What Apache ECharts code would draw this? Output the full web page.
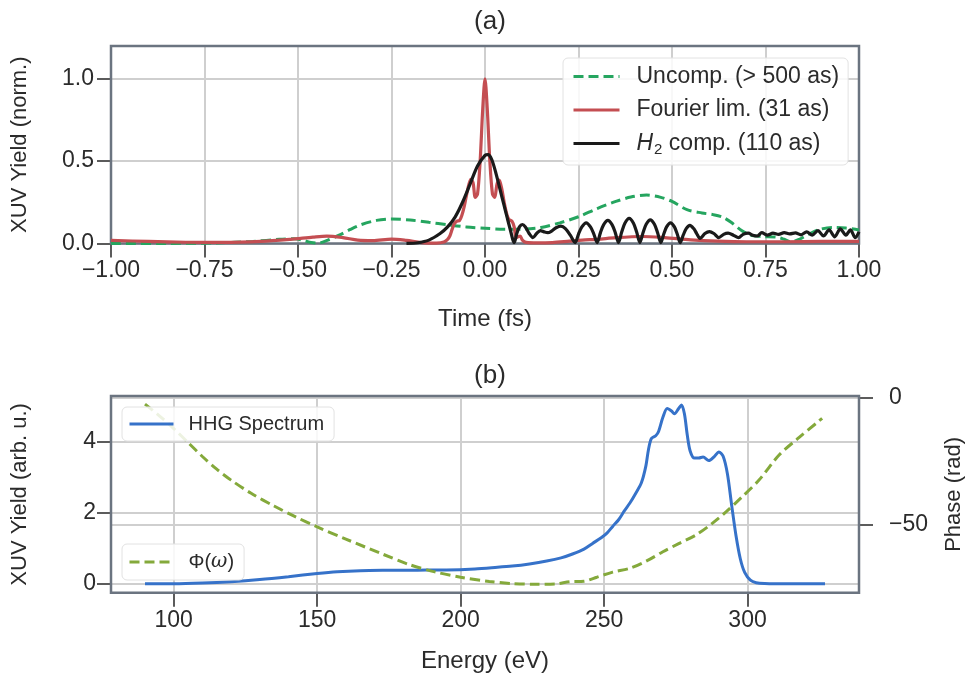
<!DOCTYPE html>
<html>
<head>
<meta charset="utf-8">
<script src="https://cdn.jsdelivr.net/npm/echarts@6/dist/echarts.min.js"></script>
<style>
html,body{margin:0;padding:0;background:#fff;}
#chart{width:966px;height:683px;}
</style>
</head>
<body>
<div id="chart"></div>
<script>
// ---------- Data ----------
const seriesNamesA = ['Uncomp. (> 500 as)', 'Fourier lim. (31 as)', 'H2 comp. (110 as)'];
const timeTicks = [-1, -0.75, -0.5, -0.25, 0, 0.25, 0.5, 0.75, 1];
const yieldTicksA = [0, 0.5, 1.0];

// Uncompressed pulse [time fs, yield]
const uncomp = [
  [-1.0, 0.0], [-0.85, 0.0], [-0.72, 0.003], [-0.62, 0.012], [-0.55, 0.025], [-0.51, 0.028],
  [-0.485, 0.018], [-0.465, 0.006], [-0.445, 0.002], [-0.42, 0.02], [-0.39, 0.05], [-0.36, 0.085],
  [-0.33, 0.115], [-0.29, 0.14], [-0.25, 0.148], [-0.2, 0.142], [-0.15, 0.128], [-0.1, 0.113],
  [-0.05, 0.1], [0.0, 0.092], [0.05, 0.086], [0.1, 0.087], [0.15, 0.097], [0.2, 0.125],
  [0.25, 0.162], [0.3, 0.212], [0.35, 0.255], [0.39, 0.282], [0.432, 0.294], [0.47, 0.28],
  [0.5, 0.255], [0.54, 0.205], [0.58, 0.185], [0.61, 0.175], [0.635, 0.16], [0.66, 0.125],
  [0.685, 0.08], [0.71, 0.05], [0.74, 0.042], [0.78, 0.038], [0.8, 0.025], [0.818, 0.01],
  [0.84, 0.025], [0.865, 0.055], [0.895, 0.085], [0.93, 0.097], [0.965, 0.093], [1.0, 0.082]
];

// Fourier-limited pulse [time fs, yield]
const fourier = [
  [-1.0, 0.018], [-0.9, 0.012], [-0.8, 0.007], [-0.7, 0.006], [-0.6, 0.012], [-0.52, 0.025],
  [-0.46, 0.038], [-0.423, 0.044], [-0.38, 0.035], [-0.34, 0.02], [-0.3, 0.017], [-0.25, 0.026],
  [-0.21, 0.018], [-0.17, 0.005], [-0.13, 0.002], [-0.11, 0.008], [-0.1, 0.025], [-0.094, 0.045],
  [-0.088, 0.085], [-0.082, 0.12], [-0.075, 0.135], [-0.068, 0.14], [-0.062, 0.17], [-0.055, 0.23],
  [-0.047, 0.32], [-0.038, 0.39], [-0.032, 0.37], [-0.026, 0.28], [-0.02, 0.3], [-0.013, 0.5],
  [-0.006, 0.82], [0.0, 1.0], [0.006, 0.82], [0.013, 0.5], [0.02, 0.3], [0.026, 0.28],
  [0.032, 0.36], [0.038, 0.385], [0.045, 0.33], [0.052, 0.24], [0.058, 0.18], [0.064, 0.145],
  [0.072, 0.135], [0.078, 0.1], [0.083, 0.035], [0.088, 0.04], [0.094, 0.045], [0.1, 0.02],
  [0.11, 0.006], [0.14, 0.003], [0.18, 0.005], [0.22, 0.012], [0.26, 0.02], [0.3, 0.025],
  [0.35, 0.035], [0.42, 0.042], [0.48, 0.035], [0.55, 0.022], [0.62, 0.014], [0.7, 0.01],
  [0.8, 0.01], [0.9, 0.012], [1.0, 0.012]
];

// H2 compressed pulse [time fs, yield]
const h2comp = [
  [-0.21, 0.0], [-0.18, 0.004], [-0.15, 0.02], [-0.12, 0.06], [-0.1, 0.1], [-0.08, 0.16],
  [-0.06, 0.25], [-0.04, 0.36], [-0.02, 0.47], [0.0, 0.535], [0.008, 0.54], [0.018, 0.51],
  [0.03, 0.42], [0.04, 0.33], [0.05, 0.24], [0.06, 0.15], [0.068, 0.08], [0.074, 0.025],
  [0.078, 0.005], [0.085, 0.06], [0.092, 0.1], [0.1, 0.115], [0.108, 0.1], [0.118, 0.06],
  [0.128, 0.035], [0.138, 0.06], [0.148, 0.078], [0.158, 0.07], [0.168, 0.065], [0.178, 0.075],
  [0.19, 0.095], [0.203, 0.105], [0.215, 0.09], [0.228, 0.05], [0.241, 0.005],
  [0.25, 0.057], [0.259, 0.1], [0.2705, 0.125], [0.282, 0.1], [0.291, 0.057], [0.3, 0.005],
  [0.3085, 0.064], [0.317, 0.113], [0.3285, 0.14], [0.34, 0.113], [0.3485, 0.064], [0.357, 0.005],
  [0.3655, 0.069], [0.374, 0.123], [0.3855, 0.152], [0.397, 0.123], [0.4055, 0.069], [0.414, 0.005],
  [0.4225, 0.065], [0.431, 0.116], [0.442, 0.143], [0.453, 0.116], [0.4615, 0.065], [0.47, 0.005],
  [0.478, 0.057], [0.4855, 0.1], [0.496, 0.125], [0.5065, 0.1], [0.514, 0.057], [0.522, 0.005],
  [0.53, 0.05], [0.538, 0.09], [0.548, 0.11], [0.558, 0.09], [0.566, 0.06], [0.575, 0.03],
  [0.588, 0.06], [0.6, 0.072], [0.612, 0.06], [0.625, 0.035], [0.638, 0.055], [0.65, 0.062],
  [0.664, 0.05], [0.678, 0.035], [0.69, 0.055], [0.704, 0.062], [0.716, 0.05], [0.728, 0.045],
  [0.74, 0.065], [0.755, 0.05], [0.77, 0.062], [0.785, 0.055], [0.8, 0.066], [0.815, 0.058],
  [0.83, 0.064], [0.845, 0.052], [0.86, 0.07], [0.875, 0.05], [0.89, 0.078], [0.905, 0.045],
  [0.92, 0.082], [0.935, 0.04], [0.95, 0.088], [0.965, 0.05], [0.977, 0.082], [0.99, 0.035],
  [1.0, 0.07]
];

const seriesNamesB = ['HHG Spectrum', 'Φ(ω)'];
const energyTicks = [100, 150, 200, 250, 300];
const yieldTicksB = [0, 2, 4];
const phaseTicks = [-50, 0];

// HHG spectrum [energy eV, yield arb. u.]
const hhg = [
  [90, 0.0], [100, 0.0], [110, 0.02], [120, 0.06], [130, 0.12], [140, 0.2], [150, 0.29],
  [157, 0.34], [165, 0.37], [175, 0.38], [185, 0.385], [195, 0.39], [205, 0.42], [212, 0.46],
  [218, 0.5], [224, 0.56], [230, 0.64], [235, 0.73], [239, 0.84], [243, 0.98], [246, 1.14],
  [249, 1.3], [251, 1.43], [253, 1.62], [255, 1.8], [257, 2.05], [259, 2.28], [261, 2.55],
  [263, 2.85], [264.5, 3.3], [265.5, 3.8], [266.5, 4.1], [268, 4.18], [269, 4.3], [270.5, 4.7],
  [272, 4.95], [273.5, 4.88], [274.5, 4.8], [276, 4.95], [277, 5.05], [278, 4.8], [279, 4.2],
  [280, 3.75], [281.5, 3.55], [283, 3.55], [284.5, 3.58], [286.5, 3.48], [288.5, 3.6],
  [290, 3.72], [291.5, 3.6], [293, 3.1], [294.5, 2.2], [296, 1.35], [297.5, 0.7], [299, 0.32],
  [301, 0.1], [303, 0.03], [306, 0.005], [310, 0.0], [327, 0.0]
];

// Spectral phase [energy eV, phase rad]
const phase = [
  [90, -2.4], [95, -7], [100, -12], [105, -17.5], [110, -23], [115, -28], [120, -32.3],
  [127, -37.5], [135, -42.5], [142, -46.5], [150, -50.7], [160, -55.5], [173, -61.5],
  [182, -65.5], [191, -68.4], [200, -70.5], [210, -72.2], [218, -73], [226, -73.3],
  [233, -73.2], [238, -72.3], [243, -72.1], [247.5, -70.5], [253, -68.5], [259, -67],
  [265, -64], [270.5, -60.5], [276, -57.3], [282, -53.9], [287.5, -49.5], [292.5, -44.8],
  [298, -39], [304, -32.3], [311, -22.4], [318, -15.5], [326, -8]
];

// ---------- Styling ----------
const FONT = '"Liberation Sans", Arial, sans-serif';
const TXT = '#2b2b2b';
const SPINE = '#6b7480';
const GRID = '#cfcfcf';
const C_GREEN = '#25a55f', C_RED = '#c44e52', C_BLACK = '#1a1a1a', C_BLUE = '#3672c9', C_OLIVE = '#84a93b';

function minus(s) { return s.replace('-', '\u2212'); }

const chart = echarts.init(document.getElementById('chart'), null, {renderer: 'canvas'});

const tickStyle = {show: true, inside: false, length: 14, lineStyle: {color: '#333', width: 1.6}};
const labelBase = {color: TXT, fontSize: 23, fontFamily: FONT};
const nameH = {color: TXT, fontSize: 24, fontFamily: FONT};
const nameV = {color: TXT, fontSize: 22, fontFamily: FONT};
const noLine = {show: false, onZero: false};
const legendCommon = {
  backgroundColor: 'rgba(255,255,255,0.85)', borderColor: '#e2e2e2', borderWidth: 1, borderRadius: 5,
  itemStyle: {color: 'rgba(0,0,0,0)', borderWidth: 0, opacity: 0},
  lineStyle: {width: 3}
};
const gridCommon = {
  show: true, z: 3, backgroundColor: 'transparent', borderColor: SPINE, borderWidth: 2.5,
  containLabel: false, outerBoundsMode: 'none'
};

const option = {
  animation: false,
  backgroundColor: '#fff',
  textStyle: {fontFamily: FONT},
  title: [
    {text: '(a)', left: 485, top: 4, textAlign: 'center', textStyle: {fontSize: 26, fontWeight: 'normal', color: TXT, fontFamily: FONT}},
    {text: '(b)', left: 485, top: 358, textAlign: 'center', textStyle: {fontSize: 26, fontWeight: 'normal', color: TXT, fontFamily: FONT}}
  ],
  grid: [
    Object.assign({left: 111, top: 46, width: 748, height: 197.4}, gridCommon),
    Object.assign({left: 111, top: 396, width: 748, height: 196.7}, gridCommon)
  ],
  legend: [
    Object.assign({
      data: seriesNamesA, orient: 'vertical', left: 563, top: 58,
      itemWidth: 46, itemHeight: 14, itemGap: 10.5,
      padding: [7, 9, 8, 9],
      textStyle: {color: TXT, fontSize: 23, fontFamily: FONT, padding: [0, 0, 0, 12],
        rich: {
          it: {fontSize: 23, fontStyle: 'italic', fontFamily: FONT, color: TXT},
          sub: {fontSize: 15, fontFamily: FONT, color: TXT, padding: [12, 0, 0, 1]},
          n: {fontSize: 23, fontFamily: FONT, color: TXT}
        }},
      formatter: function (name) {
        if (name === seriesNamesA[2]) return '{it|H}{sub|2}{n| comp. (110 as)}';
        return name;
      }
    }, legendCommon),
    Object.assign({
      data: [seriesNamesB[0]], orient: 'vertical', left: 122, top: 407,
      itemWidth: 44, itemHeight: 14,
      padding: [7, 10, 7, 6],
      textStyle: {color: TXT, fontSize: 20, fontFamily: FONT, padding: [0, 0, 0, 10]}
    }, legendCommon),
    Object.assign({
      data: [seriesNamesB[1]], orient: 'vertical', left: 122, top: 544,
      itemWidth: 44, itemHeight: 14,
      padding: [8, 10, 8, 6],
      textStyle: {color: TXT, fontSize: 20, fontFamily: FONT, padding: [0, 0, 0, 10],
        rich: {
          n: {fontSize: 20, fontFamily: FONT, color: TXT},
          it: {fontSize: 20, fontStyle: 'italic', fontFamily: 'DejaVu Serif, serif', color: TXT}
        }},
      formatter: function () { return '{n|Φ(}{it|ω}{n|)}'; }
    }, legendCommon)
  ],
  xAxis: [
    {
      gridIndex: 0, type: 'value', min: -1, max: 1, interval: 0.25,
      name: 'Time (fs)', nameLocation: 'middle', nameGap: 64, nameTextStyle: nameH,
      axisLine: noLine,
      axisTick: tickStyle,
      axisLabel: Object.assign({margin: 16, formatter: v => minus(v.toFixed(2))}, labelBase),
      splitLine: {show: true, lineStyle: {color: GRID, width: 2}}
    },
    {
      gridIndex: 1, type: 'value', min: 78.15, max: 338.85, splitNumber: 5,
      name: 'Energy (eV)', nameLocation: 'middle', nameGap: 57, nameTextStyle: nameH,
      axisLine: noLine,
      axisTick: Object.assign({customValues: energyTicks}, tickStyle),
      axisLabel: Object.assign({margin: 16, customValues: energyTicks, formatter: v => String(v)}, labelBase),
      splitLine: {show: true, lineStyle: {color: GRID, width: 2}}
    }
  ],
  yAxis: [
    {
      gridIndex: 0, type: 'value', min: 0, max: 1.2, interval: 0.5,
      name: 'XUV Yield (norm.)', nameLocation: 'middle', nameGap: 80, nameTextStyle: nameV,
      axisLine: noLine,
      axisTick: Object.assign({customValues: yieldTicksA}, tickStyle),
      axisLabel: Object.assign({margin: 17, customValues: yieldTicksA, formatter: v => v.toFixed(1)}, labelBase),
      splitLine: {show: true, lineStyle: {color: GRID, width: 2}}
    },
    {
      gridIndex: 1, type: 'value', min: -0.2525, max: 5.3025, splitNumber: 3,
      name: 'XUV Yield (arb. u.)', nameLocation: 'middle', nameGap: 80, nameTextStyle: nameV,
      axisLine: noLine,
      axisTick: Object.assign({customValues: yieldTicksB}, tickStyle),
      axisLabel: Object.assign({margin: 15, customValues: yieldTicksB, formatter: v => String(v)}, labelBase),
      splitLine: {show: true, lineStyle: {color: GRID, width: 2}}
    },
    {
      gridIndex: 1, type: 'value', position: 'right', min: -76.6, max: 0.8, splitNumber: 2,
      name: 'Phase (rad)', nameLocation: 'middle', nameGap: 84, nameTextStyle: nameV,
      axisLine: noLine,
      axisTick: Object.assign({customValues: phaseTicks}, tickStyle),
      axisLabel: Object.assign({margin: 30, customValues: phaseTicks, formatter: v => minus(String(v))}, labelBase),
      splitLine: {show: true, lineStyle: {color: GRID, width: 2}}
    }
  ],
  series: [
    {name: seriesNamesA[0], type: 'line', xAxisIndex: 0, yAxisIndex: 0, data: uncomp, symbol: 'none', smooth: 0.3,
      lineStyle: {color: C_GREEN, width: 3, type: [10, 5]}, itemStyle: {color: C_GREEN}},
    {name: seriesNamesA[1], type: 'line', xAxisIndex: 0, yAxisIndex: 0, data: fourier, symbol: 'none', smooth: 0.3,
      lineStyle: {color: C_RED, width: 3.2}, itemStyle: {color: C_RED}},
    {name: seriesNamesA[2], type: 'line', xAxisIndex: 0, yAxisIndex: 0, data: h2comp, symbol: 'none', smooth: 0.3,
      lineStyle: {color: C_BLACK, width: 3.2}, itemStyle: {color: C_BLACK}},
    {name: seriesNamesB[0], type: 'line', xAxisIndex: 1, yAxisIndex: 1, data: hhg, symbol: 'none', smooth: 0.3,
      lineStyle: {color: C_BLUE, width: 3}, itemStyle: {color: C_BLUE}},
    {name: seriesNamesB[1], type: 'line', xAxisIndex: 1, yAxisIndex: 2, data: phase, symbol: 'none', smooth: 0.3,
      lineStyle: {color: C_OLIVE, width: 3, type: [10, 5]}, itemStyle: {color: C_OLIVE}}
  ]
};
chart.setOption(option);
</script>
</body>
</html>
